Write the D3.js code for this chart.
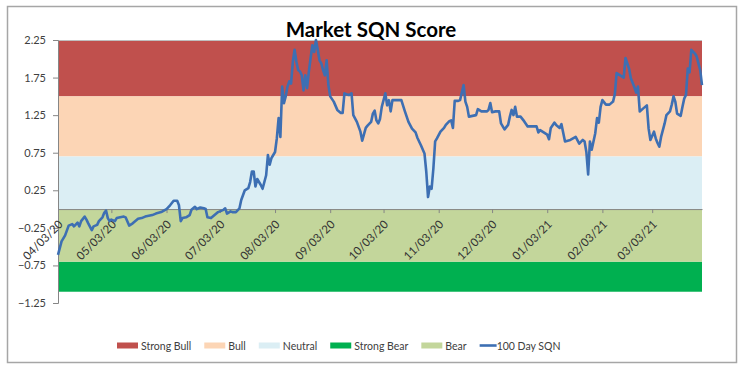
<!DOCTYPE html>
<html>
<head>
<meta charset="utf-8">
<script src="https://cdn.jsdelivr.net/npm/d3@7"></script>
<style>
  body { margin: 0; background: #fff; }
  text { font-family: Lato, "Liberation Sans", sans-serif; }
</style>
</head>
<body>
<svg></svg>
<script>
// chart data
const chartTitle = "Market SQN Score";
const seriesName = "100 Day SQN";

const dates = [
  "2020-04-03","2020-04-05","2020-04-07","2020-04-09","2020-04-11","2020-04-12","2020-04-14","2020-04-15","2020-04-16","2020-04-18",
  "2020-04-19","2020-04-20","2020-04-22","2020-04-23","2020-04-25","2020-04-26","2020-04-28","2020-04-29","2020-04-30","2020-05-01",
  "2020-05-02","2020-05-03","2020-05-05","2020-05-06","2020-05-08","2020-05-10","2020-05-11","2020-05-13","2020-05-15","2020-05-18",
  "2020-05-20","2020-05-22","2020-05-26","2020-05-28","2020-05-31","2020-06-03","2020-06-05","2020-06-07","2020-06-09","2020-06-10",
  "2020-06-11","2020-06-12","2020-06-14","2020-06-16","2020-06-17","2020-06-19","2020-06-20","2020-06-22","2020-06-24","2020-06-25",
  "2020-06-26","2020-06-28","2020-06-30","2020-07-02","2020-07-05","2020-07-06","2020-07-07","2020-07-09","2020-07-10","2020-07-12",
  "2020-07-14","2020-07-15","2020-07-17","2020-07-19","2020-07-20","2020-07-21","2020-07-22","2020-07-23","2020-07-24","2020-07-26",
  "2020-07-27","2020-07-29","2020-07-30","2020-07-31","2020-08-01","2020-08-03","2020-08-04","2020-08-05","2020-08-06","2020-08-07",
  "2020-08-08","2020-08-09","2020-08-10","2020-08-11","2020-08-12","2020-08-13","2020-08-14","2020-08-15","2020-08-16","2020-08-17",
  "2020-08-18","2020-08-19","2020-08-20","2020-08-21","2020-08-22","2020-08-23","2020-08-24","2020-08-25","2020-08-26","2020-08-27",
  "2020-08-28","2020-08-29","2020-08-30","2020-08-31","2020-09-01","2020-09-02","2020-09-03","2020-09-05","2020-09-07","2020-09-09",
  "2020-09-10","2020-09-11","2020-09-13","2020-09-14","2020-09-15","2020-09-16","2020-09-18","2020-09-20","2020-09-21","2020-09-23",
  "2020-09-24","2020-09-26","2020-09-27","2020-09-28","2020-09-29","2020-09-30","2020-10-01","2020-10-02","2020-10-04","2020-10-05",
  "2020-10-06","2020-10-07","2020-10-08","2020-10-10","2020-10-13","2020-10-15","2020-10-17","2020-10-19","2020-10-21","2020-10-22",
  "2020-10-24","2020-10-26","2020-10-27","2020-10-28","2020-10-29","2020-10-30","2020-10-31","2020-11-01","2020-11-02","2020-11-04",
  "2020-11-06","2020-11-07","2020-11-09","2020-11-10","2020-11-11","2020-11-12","2020-11-14","2020-11-15","2020-11-17","2020-11-18",
  "2020-11-19","2020-11-20","2020-11-22","2020-11-24","2020-11-25","2020-11-27","2020-11-30","2020-12-01","2020-12-02","2020-12-03",
  "2020-12-05","2020-12-07","2020-12-08","2020-12-10","2020-12-12","2020-12-13","2020-12-14","2020-12-15","2020-12-16","2020-12-17",
  "2020-12-19","2020-12-21","2020-12-23","2020-12-25","2020-12-28","2020-12-29","2020-12-30","2021-01-01","2021-01-03","2021-01-04",
  "2021-01-05","2021-01-07","2021-01-08","2021-01-10","2021-01-11","2021-01-13","2021-01-16","2021-01-19","2021-01-21","2021-01-23",
  "2021-01-24","2021-01-25","2021-01-26","2021-01-27","2021-01-28","2021-01-30","2021-01-31","2021-02-01","2021-02-02","2021-02-03",
  "2021-02-05","2021-02-07","2021-02-09","2021-02-10","2021-02-11","2021-02-13","2021-02-15","2021-02-16","2021-02-18","2021-02-19",
  "2021-02-21","2021-02-22","2021-02-23","2021-02-24","2021-02-26","2021-02-28","2021-03-01","2021-03-02","2021-03-04","2021-03-05",
  "2021-03-06","2021-03-07","2021-03-08","2021-03-10","2021-03-11","2021-03-13","2021-03-14","2021-03-15","2021-03-16","2021-03-17",
  "2021-03-19","2021-03-20","2021-03-21","2021-03-22","2021-03-23","2021-03-24","2021-03-25","2021-03-27","2021-03-28","2021-03-30",
  "2021-03-31"
];

const sqnValues = [
  -0.61,-0.43,-0.35,-0.22,-0.20,-0.23,-0.18,-0.23,-0.16,-0.10,
  -0.14,-0.19,-0.28,-0.23,-0.21,-0.16,-0.11,-0.05,-0.02,-0.12,
  -0.16,-0.14,-0.16,-0.12,-0.11,-0.10,-0.11,-0.22,-0.19,-0.13,
  -0.12,-0.10,-0.08,-0.06,-0.04,0.00,0.05,0.11,0.11,0.05,
  -0.16,-0.12,-0.11,-0.08,-0.01,0.03,0.00,0.02,0.01,0.00,
  -0.11,-0.12,-0.08,-0.04,-0.01,0.01,-0.06,-0.03,-0.04,-0.04,
  0.01,0.12,0.25,0.28,0.36,0.50,0.50,0.30,0.40,0.32,
  0.27,0.45,0.72,0.59,0.68,0.76,0.94,1.21,0.96,1.63,
  1.41,1.50,1.63,1.70,1.67,1.96,2.12,1.96,1.85,1.83,
  1.78,1.58,1.78,1.61,1.83,2.01,2.18,2.09,2.25,2.12,
  1.98,1.94,1.85,1.78,1.98,1.65,1.50,1.43,1.32,1.28,
  1.28,1.54,1.52,1.52,1.54,1.25,1.16,1.03,0.91,1.08,
  1.11,1.16,1.27,1.31,1.18,1.14,1.20,1.36,1.54,1.38,
  1.45,1.30,1.45,1.45,1.45,1.30,1.16,1.07,1.02,0.95,
  0.85,0.74,0.50,0.16,0.30,0.27,0.54,0.90,0.94,1.03,
  1.08,1.12,1.17,1.18,1.08,1.44,1.44,1.45,1.65,1.43,
  1.36,1.23,1.24,1.25,1.33,1.30,1.30,1.32,1.41,1.29,
  1.30,1.30,1.14,1.06,1.12,1.23,1.32,1.25,1.36,1.23,
  1.23,1.17,1.10,1.10,1.10,1.02,1.05,1.02,0.99,0.93,
  1.08,1.15,1.12,1.08,1.13,0.90,0.92,0.96,0.87,0.92,
  0.90,0.76,0.46,0.90,0.79,1.01,1.21,1.15,1.36,1.45,
  1.39,1.39,1.43,1.53,1.81,1.78,1.75,2.01,1.87,1.74,
  1.62,1.55,1.63,1.30,1.34,1.38,1.07,0.92,1.03,0.94,
  0.88,0.83,0.96,1.14,1.25,1.30,1.39,1.50,1.43,1.27,
  1.24,1.36,1.47,1.52,1.87,1.82,2.12,2.07,2.03,1.85,
  1.65
];

const xStart = "2020-04-03";
const xEnd = "2021-03-31";
const xTickLabels = ["04/03/20","05/03/20","06/03/20","07/03/20","08/03/20","09/03/20",
                     "10/03/20","11/03/20","12/03/20","01/03/21","02/03/21","03/03/21"];
const yTicks = [-1.25, -0.75, -0.25, 0.25, 0.75, 1.25, 1.75, 2.25];

// zones, in legend order
const bandNames = ["Strong Bull", "Bull", "Neutral", "Strong Bear", "Bear"];
const bandLow   = [1.5, 0.7, 0, -1.1, -0.7];
const bandHigh  = [2.25, 1.5, 0.7, -0.7, 0];

// layout + style
const width = 743;
const height = 373;
const plot = { left: 58, top: 40, right: 702, bottom: 303 };
const bandColors = ["#c0504d", "#fcd5b5", "#dbeef4", "#00b050", "#c3d69b"];
const lineColor = "#3d6fb3";
const axisGray = "#868686";
const textColor = "#404040";

const parseDay = d3.timeParse("%Y-%m-%d");
const parseTick = d3.timeParse("%m/%d/%y");

const points = dates.map((d, i) => ({ date: parseDay(d), v: sqnValues[i] }));
const bands = bandNames.map((name, i) => ({ name: name, lo: bandLow[i], hi: bandHigh[i], color: bandColors[i] }));

const svg = d3.select("svg")
  .attr("width", width)
  .attr("height", height);

const xScale = d3.scaleTime()
  .domain([parseDay(xStart), parseDay(xEnd)])
  .range([plot.left, plot.right]);

const yScale = d3.scaleLinear()
  .domain([-1.25, 2.25])
  .range([plot.bottom, plot.top]);

// chart frame
svg.append("rect")
  .attr("x", 7.5).attr("y", 6.5)
  .attr("width", 729).attr("height", 356)
  .attr("fill", "#fff")
  .attr("stroke", "#a6a6a6")
  .attr("stroke-width", 1.5);

// zone bands
svg.append("g")
  .selectAll("rect")
  .data(bands)
  .enter()
  .append("rect")
  .attr("x", plot.left)
  .attr("width", plot.right - plot.left)
  .attr("y", (b) => yScale(b.hi))
  .attr("height", (b) => yScale(b.lo) - yScale(b.hi))
  .attr("fill", (b) => b.color);

// top edge of plot area
svg.append("line")
  .attr("x1", plot.left).attr("x2", plot.right)
  .attr("y1", plot.top + 0.5).attr("y2", plot.top + 0.5)
  .attr("stroke", "#bfbfbf");

// y axis
const yAxis = d3.axisLeft(yScale)
  .tickValues(yTicks)
  .tickFormat(d3.format(".2f"))
  .tickSize(5)
  .tickPadding(7);

const yG = svg.append("g")
  .attr("transform", "translate(" + plot.left + ",0)")
  .call(yAxis);
yG.select(".domain").attr("stroke", axisGray);
yG.selectAll(".tick line").attr("stroke", axisGray);
yG.selectAll("text")
  .attr("fill", textColor)
  .style("font-size", "11px");

// x axis sits on the zero line
const tickDates = xTickLabels.map((t) => parseTick(t));
const xAxis = d3.axisBottom(xScale)
  .tickValues(tickDates)
  .tickFormat((d, i) => xTickLabels[i])
  .tickSize(4)
  .tickSizeOuter(0);

const xG = svg.append("g")
  .attr("transform", "translate(0," + yScale(0) + ")")
  .call(xAxis);
xG.select(".domain").attr("stroke", axisGray);
xG.selectAll(".tick line").attr("stroke", axisGray);
xG.selectAll("text")
  .attr("x", 0).attr("y", 0).attr("dy", 0)
  .attr("transform", "translate(5,16) rotate(-45)")
  .style("text-anchor", "end")
  .style("font-size", "11.5px")
  .attr("fill", "#333");

// the SQN line
const line = d3.line()
  .x((d) => xScale(d.date))
  .y((d) => yScale(d.v));

svg.append("path")
  .datum(points)
  .attr("d", line)
  .attr("fill", "none")
  .attr("stroke", lineColor)
  .attr("stroke-width", 2.6)
  .attr("stroke-linejoin", "round");

// title
svg.append("text")
  .attr("x", 371)
  .attr("y", 37)
  .attr("text-anchor", "middle")
  .style("font-size", "20.5px")
  .style("font-weight", "bold")
  .attr("fill", "#000")
  .text(chartTitle);

// legend, laid out left to right
const legend = svg.append("g").attr("transform", "translate(117,0)");
let lx = 0;
const legendItems = bands.map((b) => ({ name: b.name, color: b.color, kind: "box" }))
  .concat([{ name: seriesName, color: lineColor, kind: "line" }]);

legendItems.forEach((item) => {
  if (item.kind === "box") {
    legend.append("rect")
      .attr("x", lx).attr("y", 342.5)
      .attr("width", 21).attr("height", 6)
      .attr("fill", item.color);
  } else {
    legend.append("line")
      .attr("x1", lx).attr("x2", lx + 17)
      .attr("y1", 345.5).attr("y2", 345.5)
      .attr("stroke", item.color)
      .attr("stroke-width", 2.6);
  }
  const tx = lx + (item.kind === "box" ? 24 : 17);
  const t = legend.append("text")
    .attr("x", tx).attr("y", 349.5)
    .style("font-size", "10.5px")
    .attr("fill", textColor)
    .text(item.name);
  lx = tx + t.node().getComputedTextLength() + 13;
});
</script>
</body>
</html>
